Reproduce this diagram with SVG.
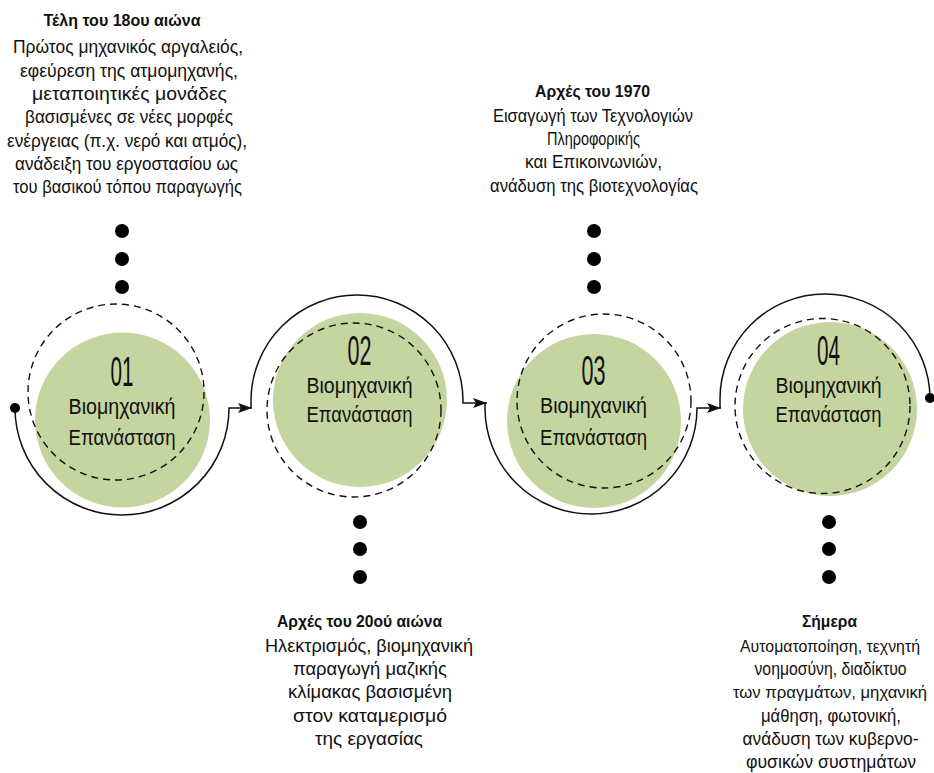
<svg xmlns="http://www.w3.org/2000/svg" width="934" height="773" viewBox="0 0 934 773">
<style>
.bg{fill:#ffffff}
.disk{fill:#c5d59f}
.dash{fill:none;stroke:#111;stroke-width:1.4;stroke-dasharray:7 5}
.conn{fill:none;stroke:#111;stroke-width:1.5}
.dot{fill:#000}
.num{font-family:"Liberation Sans",Arial,sans-serif;font-size:43px;fill:#111;text-anchor:middle}
.lbl{font-family:"Liberation Sans",Arial,sans-serif;font-size:21.5px;fill:#111;text-anchor:middle}
.ttl{font-family:"Liberation Sans",Arial,sans-serif;font-size:17px;font-weight:bold;fill:#111;text-anchor:middle}
.body{font-family:"Liberation Sans",Arial,sans-serif;font-size:18px;fill:#111;text-anchor:middle}
.edge{font-size:16.5px}
</style>
<defs>
<marker id="arr" markerUnits="userSpaceOnUse" markerWidth="15" markerHeight="11" refX="14" refY="5" orient="auto">
<path d="M0,0 L14,5 L0,10 L3,5 z" fill="#111"/>
</marker>
</defs>
<rect class="bg" x="0" y="0" width="934" height="773"/>

<g id="stage1">
<circle class="disk" cx="122.5" cy="420" r="87.5"/>
<circle class="dash" cx="116" cy="392" r="88"/>
<text class="num" x="122" y="386" textLength="23" lengthAdjust="spacingAndGlyphs">01</text>
<text class="lbl" x="122" y="414" textLength="107" lengthAdjust="spacingAndGlyphs">Βιομηχανική</text>
<text class="lbl" x="122" y="445" textLength="107" lengthAdjust="spacingAndGlyphs">Επανάσταση</text>
<circle class="dot" cx="122" cy="231" r="7"/>
<circle class="dot" cx="122" cy="259" r="7"/>
<circle class="dot" cx="122" cy="287" r="7"/>
<text class="ttl" x="122" y="25.5" textLength="157" lengthAdjust="spacingAndGlyphs">Τέλη του 18ου αιώνα</text>
<text class="body" x="128" y="53.3" textLength="230" lengthAdjust="spacingAndGlyphs">Πρώτος μηχανικός αργαλειός,</text>
<text class="body" x="129" y="76.7" textLength="218" lengthAdjust="spacingAndGlyphs">εφεύρεση της ατμομηχανής,</text>
<text class="body" x="129.5" y="100" textLength="195" lengthAdjust="spacingAndGlyphs">μεταποιητικές μονάδες</text>
<text class="body" x="129" y="123.3" textLength="208" lengthAdjust="spacingAndGlyphs">βασισμένες σε νέες μορφές</text>
<text class="body" x="127" y="146.7" textLength="240" lengthAdjust="spacingAndGlyphs">ενέργειας (π.χ. νερό και ατμός),</text>
<text class="body" x="126.5" y="170" textLength="223" lengthAdjust="spacingAndGlyphs">ανάδειξη του εργοστασίου ως</text>
<text class="body" x="127.5" y="193.3" textLength="229" lengthAdjust="spacingAndGlyphs">του βασικού τόπου παραγωγής</text>
</g>

<g id="stage2">
<circle class="disk" cx="360" cy="400" r="87"/>
<circle class="dash" cx="354" cy="410" r="87"/>
<text class="num" x="359.5" y="365" textLength="24" lengthAdjust="spacingAndGlyphs">02</text>
<text class="lbl" x="359.5" y="393" textLength="106" lengthAdjust="spacingAndGlyphs">Βιομηχανική</text>
<text class="lbl" x="359.5" y="422" textLength="106" lengthAdjust="spacingAndGlyphs">Επανάσταση</text>
<circle class="dot" cx="360" cy="522" r="7"/>
<circle class="dot" cx="360" cy="549" r="7"/>
<circle class="dot" cx="360" cy="577" r="7"/>
<text class="ttl" x="359.5" y="626.5" textLength="165" lengthAdjust="spacingAndGlyphs">Αρχές του 20ού αιώνα</text>
<text class="body" x="369" y="651.7" textLength="208" lengthAdjust="spacingAndGlyphs">Ηλεκτρισμός, βιομηχανική</text>
<text class="body" x="370" y="675" textLength="154" lengthAdjust="spacingAndGlyphs">παραγωγή μαζικής</text>
<text class="body" x="370" y="698.3" textLength="164" lengthAdjust="spacingAndGlyphs">κλίμακας βασισμένη</text>
<text class="body" x="370" y="721.7" textLength="154" lengthAdjust="spacingAndGlyphs">στον καταμερισμό</text>
<text class="body" x="369" y="745" textLength="108" lengthAdjust="spacingAndGlyphs">της εργασίας</text>
</g>

<g id="stage3">
<circle class="disk" cx="594" cy="421" r="87"/>
<circle class="dash" cx="604" cy="401" r="87"/>
<text class="num" x="593.5" y="385" textLength="24" lengthAdjust="spacingAndGlyphs">03</text>
<text class="lbl" x="593.5" y="413" textLength="107" lengthAdjust="spacingAndGlyphs">Βιομηχανική</text>
<text class="lbl" x="593.5" y="445" textLength="107" lengthAdjust="spacingAndGlyphs">Επανάσταση</text>
<circle class="dot" cx="594" cy="231" r="7"/>
<circle class="dot" cx="594" cy="259" r="7"/>
<circle class="dot" cx="594" cy="287" r="7"/>
<text class="ttl" x="592.5" y="96.7" textLength="115" lengthAdjust="spacingAndGlyphs">Αρχές του 1970</text>
<text class="body" x="593" y="121.7" textLength="200" lengthAdjust="spacingAndGlyphs">Εισαγωγή των Τεχνολογιών</text>
<text class="body" x="593.5" y="145" textLength="93" lengthAdjust="spacingAndGlyphs">Πληροφορικής</text>
<text class="body" x="593.5" y="168.3" textLength="137" lengthAdjust="spacingAndGlyphs">και Επικοινωνιών,</text>
<text class="body" x="594" y="191.7" textLength="208" lengthAdjust="spacingAndGlyphs">ανάδυση της βιοτεχνολογίας</text>
</g>

<g id="stage4">
<circle class="disk" cx="830" cy="409" r="87"/>
<circle class="dash" cx="822.5" cy="406" r="87.5"/>
<text class="num" x="828.5" y="365" textLength="23" lengthAdjust="spacingAndGlyphs">04</text>
<text class="lbl" x="828.5" y="393" textLength="106" lengthAdjust="spacingAndGlyphs">Βιομηχανική</text>
<text class="lbl" x="828.5" y="422" textLength="106" lengthAdjust="spacingAndGlyphs">Επανάσταση</text>
<circle class="dot" cx="829" cy="522" r="7"/>
<circle class="dot" cx="829" cy="549" r="7"/>
<circle class="dot" cx="829" cy="577" r="7"/>
<text class="ttl" x="829.5" y="626.5" textLength="55" lengthAdjust="spacingAndGlyphs">Σήμερα</text>
<text class="body edge" x="830" y="651.7" textLength="180" lengthAdjust="spacingAndGlyphs">Αυτοματοποίηση, τεχνητή</text>
<text class="body" x="830.5" y="675" textLength="152" lengthAdjust="spacingAndGlyphs">νοημοσύνη, διαδίκτυο</text>
<text class="body edge" x="830" y="698.3" textLength="194" lengthAdjust="spacingAndGlyphs">των πραγμάτων, μηχανική</text>
<text class="body" x="831" y="721.7" textLength="140" lengthAdjust="spacingAndGlyphs">μάθηση, φωτονική,</text>
<text class="body" x="830.5" y="745" textLength="176" lengthAdjust="spacingAndGlyphs">ανάδυση των κυβερνο-</text>
<text class="body" x="831" y="768.3" textLength="170" lengthAdjust="spacingAndGlyphs">φυσικών συστημάτων</text>
</g>

<g id="connectors">
<path class="conn" d="M15,408 A107,107 0 0 0 229,408 L252,408" marker-end="url(#arr)"/>
<path class="conn" d="M251,408 L251,401 A106,106 0 0 1 463,401 L463,403 L487,403" marker-end="url(#arr)"/>
<path class="conn" d="M485,403 L485,408 A106,106 0 0 0 697,408 L721,408" marker-end="url(#arr)"/>
<path class="conn" d="M720,408 L720,399 A105,105 0 0 1 930,399"/>
<circle class="dot" cx="15" cy="408" r="5"/>
<circle class="dot" cx="930" cy="398" r="5"/>
</g>
</svg>
